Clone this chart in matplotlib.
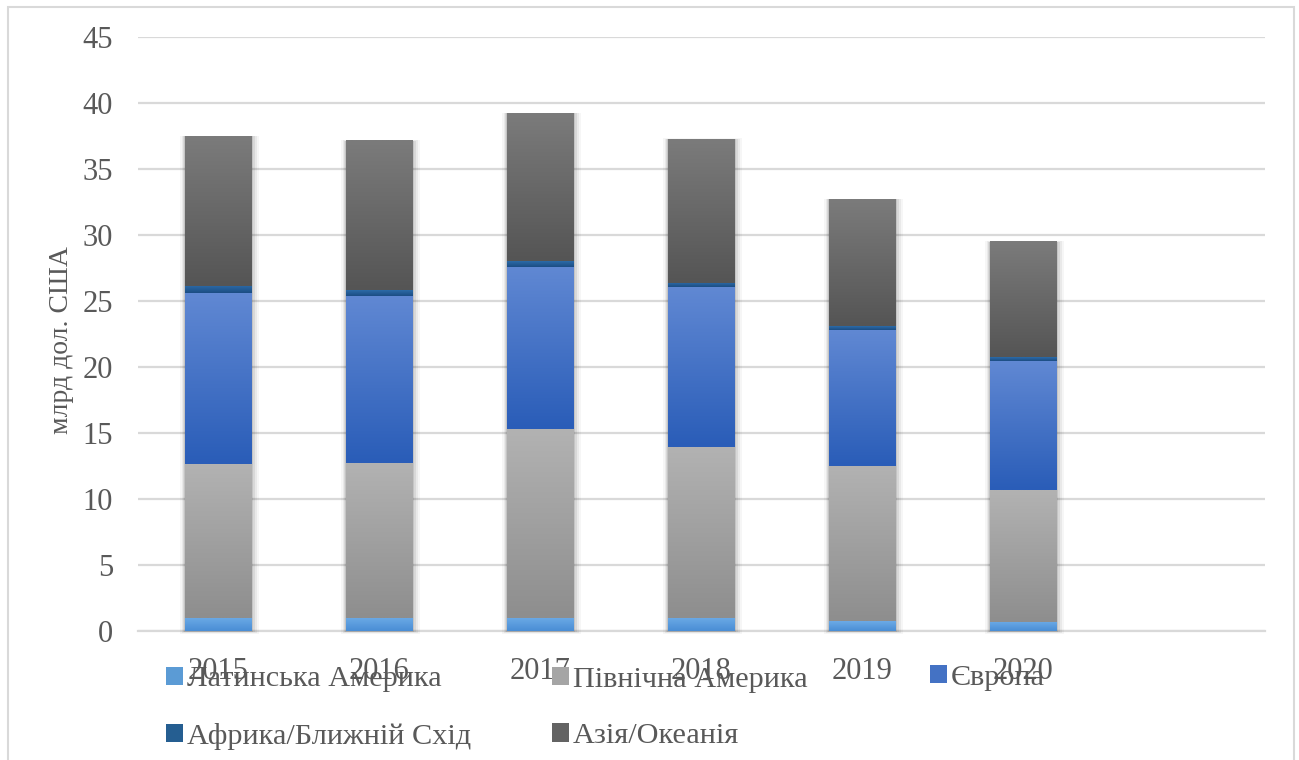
import matplotlib
matplotlib.use("Agg")
import matplotlib.pyplot as plt
import numpy as np
from matplotlib.colors import LinearSegmentedColormap
from matplotlib.patches import Rectangle

years = ["2015", "2016", "2017", "2018", "2019", "2020", ""]
latin_america = [1.0, 1.0, 1.0, 1.0, 0.75, 0.7]
north_america = [11.65, 11.7, 14.3, 12.95, 11.75, 10.0]
europe = [12.95, 12.7, 12.3, 12.1, 10.3, 9.75]
africa_me = [0.55, 0.45, 0.45, 0.35, 0.3, 0.3]
asia_oceania = [11.35, 11.3, 11.2, 10.9, 9.6, 8.75]

series_names = ["Латинська Америка", "Північна Америка", "Європа",
                "Африка/Ближній Схід", "Азія/Океанія"]
series_vals = [latin_america, north_america, europe, africa_me, asia_oceania]
# (top colour, bottom colour) gradients
grads = [("#6caae6", "#4a8ed5"),
         ("#b2b2b2", "#8e8e8e"),
         ("#6088d3", "#2a5db8"),
         ("#2c6ba8", "#1c4d83"),
         ("#7b7b7b", "#555555")]
legend_cols = ["#5b9bd5", "#a5a5a5", "#4472c4", "#255e91", "#636363"]

text_col = "#595959"
grid_col = "#d9d9d9"
plt.rcParams["font.family"] = ["Liberation Serif", "DejaVu Serif"]

fig = plt.figure(figsize=(12.99, 7.6), dpi=100)
ax = fig.add_axes([138/1299, 1-631/760, (1265-138)/1299, (631-37)/760])

x = np.arange(len(years))
n = len(latin_america)
bottom = np.zeros(n)
bar_w = 0.41
first_bars = None
for vals, name, (ctop, cbot), lc in zip(series_vals, series_names, grads, legend_cols):
    bars = ax.bar(x[:n], vals, bar_w, bottom=bottom, color=lc, linewidth=0,
                  zorder=3, label=name)
    if first_bars is None:
        first_bars = bars
    cmap = LinearSegmentedColormap.from_list("g", [cbot, ctop])
    grad = np.linspace(0, 1, 64).reshape(-1, 1)
    for b in bars:
        bx, by, bw, bh = b.get_x(), b.get_y(), b.get_width(), b.get_height()
        ax.imshow(grad, extent=[bx, bx+bw, by, by+bh], origin="lower",
                  cmap=cmap, aspect="auto", zorder=4, interpolation="bilinear")
    bottom += np.array(vals)

# soft shadow around each full stack
for b, tot in zip(first_bars, bottom):
    bx, bw = b.get_x(), b.get_width()
    for k, a in zip([0.07, 0.05, 0.03, 0.015], [0.035, 0.05, 0.07, 0.09]):
        ax.add_patch(Rectangle((bx - k*0.45, -k*3), bw + k*1.1, tot + k*3.2,
                               facecolor="black", alpha=a, linewidth=0,
                               zorder=2, clip_on=False))

ax.set_xlim(-0.5, len(years)-0.5)
ax.set_ylim(0, 45)
ax.set_yticks(np.arange(0, 46, 5))
ax.set_xticks(x[:n])
ax.set_xticklabels(years[:n])
ax.yaxis.grid(True, color=grid_col, linewidth=1.6, zorder=0)
ax.set_axisbelow(True)
for s in ["left", "right", "top"]:
    ax.spines[s].set_visible(False)
ax.spines["bottom"].set_color(grid_col)
ax.spines["bottom"].set_linewidth(1.6)
ax.spines["bottom"].set_zorder(1)
ax.tick_params(axis="both", length=0, labelsize=22, colors=text_col)
ax.tick_params(axis="y", pad=18)
ax.tick_params(axis="x", pad=19)

fig.text(62/1299, 1-340/760, "млрд дол. США", rotation=90, fontsize=20,
         color=text_col, ha="center", va="center")

handles = [Rectangle((0, 0), 1, 1, facecolor=c, edgecolor="none") for c in legend_cols]
common = dict(frameon=False, fontsize=21.8, labelcolor=text_col, handlelength=0.55,
              handleheight=0.55, handletextpad=0.15, borderpad=0, borderaxespad=0,
              labelspacing=1.0)
lg1 = fig.legend([handles[0], handles[3]], [series_names[0], series_names[3]],
                 loc="center left", bbox_to_anchor=(166/1299, 1-708/760), **common)
lg2 = fig.legend([handles[1], handles[4]], [series_names[1], series_names[4]],
                 loc="center left", bbox_to_anchor=(552/1299, 1-708/760), **common)
lg3 = fig.legend([handles[2]], [series_names[2]],
                 loc="center left", bbox_to_anchor=(930/1299, 1-678/760), **common)

fig.patches.append(Rectangle((8/1299, -0.1), (1294-8)/1299, 1.1-7/760,
                             transform=fig.transFigure, fill=False,
                             edgecolor=grid_col, linewidth=1.5))

fig.savefig("out.png", dpi=100)
